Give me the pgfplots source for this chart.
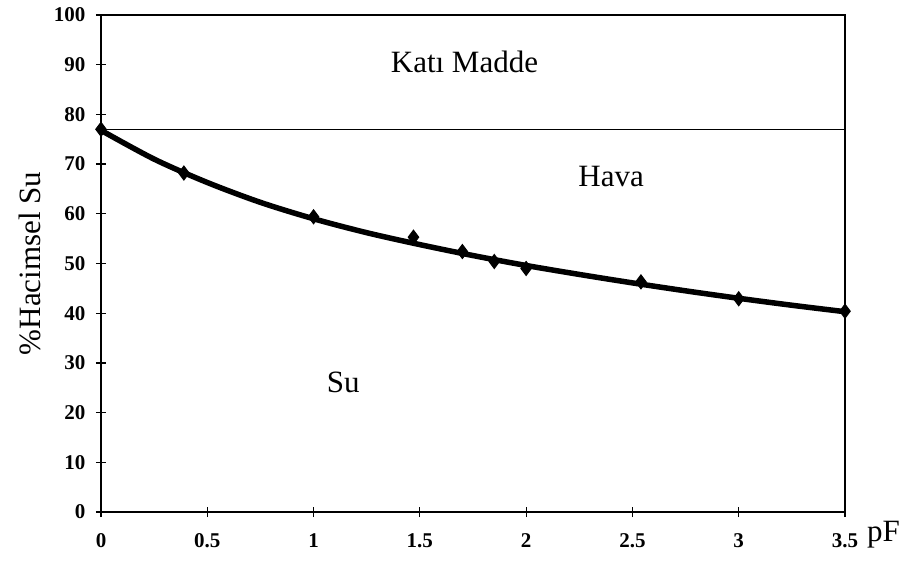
\documentclass[border=0pt]{standalone}
\usepackage{pgfplots}
\pgfplotsset{compat=1.18}
\usepackage{fontspec}
\setmainfont{Liberation Serif}
\begin{document}
\begin{tikzpicture}
\path[use as bounding box] (-101pt,-48pt) rectangle (811pt,512pt);
\begin{axis}[
  at={(0,0)}, anchor=south west,
  scale only axis, width=744pt, height=497pt,
  xmin=0, xmax=3.5, ymin=0, ymax=100,
  xtick={0,0.5,1,1.5,2,2.5,3,3.5},
  xticklabels={0,0.5,1,1.5,2,2.5,3,3.5},
  ytick={0,10,...,100},
  tick align=center,
  xtick pos=bottom, ytick pos=left,
  major tick length=10pt,
  axis line style={line width=1.3pt},
  tick style={line width=1.2pt, black},
  ticklabel style={font=\fontsize{21}{23}\selectfont\bfseries},
  /pgf/number format/assume math mode=true,
  xticklabel style={yshift=-13pt},
  yticklabel style={xshift=-7pt},
  ylabel={\%Hacimsel Su},
  every axis y label/.style={at={(axis description cs:-0.0955,0.5)}, rotate=90, anchor=center, font=\fontsize{31}{34}\selectfont},
  clip=false,
]
% horizontal line at 77
\addplot[black, line width=1pt] coordinates {(0,77) (3.5,77)};
% fitted curve
\addplot[black, line width=5.5pt, smooth] coordinates {
 (0,76.8) (0.25,71) (0.5,66.3) (0.75,62.3) (1,59) (1.25,56.2) (1.5,53.8)
 (1.75,51.6) (2,49.6) (2.25,47.8) (2.5,46.1) (2.75,44.5) (3,43) (3.25,41.6) (3.5,40.3)};
% measured points
\addplot[only marks, mark=diamond*, mark size=7pt, black, fill=black, mark options={line width=1pt}] coordinates {
 (0,77) (0.39,68.2) (1,59.4) (1.47,55.3) (1.7,52.4) (1.85,50.4) (2,49) (2.54,46.3) (3,42.9) (3.5,40.4)};
\node[font=\fontsize{31}{34}\selectfont] at (axis cs:1.71,90.5) {Katı Madde};
\node[font=\fontsize{31}{34}\selectfont] at (axis cs:2.40,67.6) {Hava};
\node[font=\fontsize{31}{34}\selectfont] at (axis cs:1.14,26) {Su};
\node[font=\fontsize{31}{34}\selectfont, anchor=west, inner sep=0pt] at (axis cs:3.5,-4.6) [xshift=22pt] {pF};
\end{axis}
\end{tikzpicture}
\end{document}
